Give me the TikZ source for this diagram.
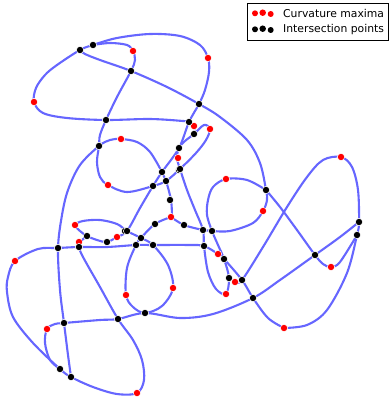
\documentclass[tikz,border=0pt]{standalone}
\usepackage{fontspec}
\setmainfont{DejaVu Sans}
\definecolor{curveblue}{RGB}{102,102,255}
\begin{document}
\begin{tikzpicture}[x=1pt,y=-1pt,
  crv/.style={curveblue, line width=2.1pt, line cap=round, line join=round},
  reddot/.style={circle, fill=red, draw=white, line width=0.5pt, inner sep=0pt, minimum size=7.2pt},
  blackdot/.style={circle, fill=black, draw=white, line width=0.5pt, inner sep=0pt, minimum size=7.2pt},
  legdot/.style={circle, inner sep=0pt, minimum size=6pt}]
\useasboundingbox (0,0) rectangle (389,404);
% curve strokes
\draw[crv] plot[smooth, tension=0.55] coordinates {(194,134) (194,127) (189,122) (183,121) (150,119) (106,120) (67,118) (43,113) (34,102) (36,88) (45,75) (57,65) (80,50) (93,45) (117,38) (150,34) (180,36) (200,45) (208,58) (209,72) (205,90) (199,104) (189,122) (179,148) (162,172) (153,186) (140,208) (127,231) (117,237) (107,242) (97,240) (87,236) (80,231) (75,225) (83,221) (100,220) (117,224) (127,231) (141,238) (153,245) (168,265) (173,288) (162,306) (145,313) (133,307) (126,295) (127,268) (136,245) (141,238) (155,224) (171,217)};
\draw[crv] plot[smooth, tension=0.55] coordinates {(171,217) (184,225) (203,230) (212,231) (230,231) (253,223) (263,211) (267,200) (266,190) (260,163) (247,140) (220,117) (199,104) (167,87) (131,71) (100,60) (85,54) (80,50)};
\draw[crv] plot[smooth, tension=0.55] coordinates {(93,45) (110,43) (127,45) (133,51) (135,60) (131,71) (117,97) (106,120) (100,135) (99,146) (97,162) (100,177) (108,185) (127,192) (153,186) (166,181) (180,169) (196,153) (206,140) (210,129) (204,125) (194,134) (185,141) (179,148) (177,158) (180,169)};
\draw[crv] plot[smooth, tension=0.55] coordinates {(172,217) (171,200) (166,181) (162,172) (150,152) (137,142) (121,139) (110,140) (99,146) (80,165) (68,190) (62,215) (58,248) (60,290) (64,323) (68,355) (71,377)};
\draw[crv] plot[smooth, tension=0.55] coordinates {(284,328) (268,318) (253,298) (242,280) (224,259) (218,254) (204,246) (190,245) (153,245) (136,245) (107,247) (79,247) (58,248) (38,249) (15,261) (8,277) (7,292) (13,317) (33,343) (60,369) (71,377) (93,387) (117,394) (137,393) (144,380) (142,360) (133,340) (118,319) (100,287) (83,257) (79,247) (80,242) (87,236)};
\draw[crv] plot[smooth, tension=0.55] coordinates {(60,369) (50,360) (45,343) (47,329) (55,324) (64,323) (100,320) (118,319) (145,313) (180,318) (213,314) (253,298) (280,280) (315,255) (340,237) (359,222)};
\draw[crv] plot[smooth, tension=0.55] coordinates {(235,282) (242,280) (263,247) (287,207) (307,177) (323,160) (341,157) (352,167) (358,190) (359,222) (357,235) (347,273) (327,310) (307,325) (284,328)};
\draw[crv] plot[smooth, tension=0.55] coordinates {(266,190) (280,207) (297,230) (315,255) (323,264) (331,267) (340,262) (357,235)};
\draw[crv] plot[smooth, tension=0.55] coordinates {(266,190) (247,180) (226,179) (213,187) (208,200) (207,215) (212,231) (218,245) (224,259) (229,278) (226,294) (216,289) (208,272) (204,246) (203,230) (195,210) (187,190) (180,169)};
% curvature maxima
\foreach \x/\y [count=\i] in {133/51,208/58,34/102,194/126,210/129,121/139,178/158,108/185,226/179,341/157,75/225,171/217,117/237,79/242,263/211,218/254,235/282,226/294,331/267,15/261,173/288,126/295,47/329,284/328,137/393}
  \node[reddot] (r\i) at (\x,\y) {};
% intersection points
\foreach \x/\y [count=\i] in {80/50,93/45,131/71,106/120,199/104,189/122,194/134,99/146,179/148,179/170,180/169,162/172,166/181,153/186,170/200,266/190,155/224,184/225,125/231,127/231,87/236,141/238,107/242,58/248,79/247,136/245,153/245,203/230,212/231,204/246,224/259,229/278,242/280,253/298,359/222,357/235,315/255,145/313,118/319,64/323,60/369,71/377}
  \node[blackdot] (b\i) at (\x,\y) {};
% legend
\node[draw=black, line width=0.8pt, fill=white, minimum width=141.5pt, minimum height=37pt, inner sep=0pt] (legend) at (318,21.5) {};
\node[legdot, fill=red] (lr1) at (255,13.3) {};
\node[legdot, fill=red, minimum size=6.5pt] (lr2) at (262.7,12.7) {};
\node[legdot, fill=red] (lr3) at (270.7,14) {};
\node[legdot, fill=black] (lb1) at (255,29.3) {};
\node[legdot, fill=black, minimum size=6.5pt] (lb2) at (262.7,28.7) {};
\node[legdot, fill=black] (lb3) at (270.7,30) {};
\node[anchor=west, inner sep=0pt, font=\fontsize{10.8}{12}\selectfont] (lt1) at (283,13.3) {Curvature maxima};
\node[anchor=west, inner sep=0pt, font=\fontsize{10.8}{12}\selectfont] (lt2) at (283,29.5) {Intersection points};
\end{tikzpicture}
\end{document}
